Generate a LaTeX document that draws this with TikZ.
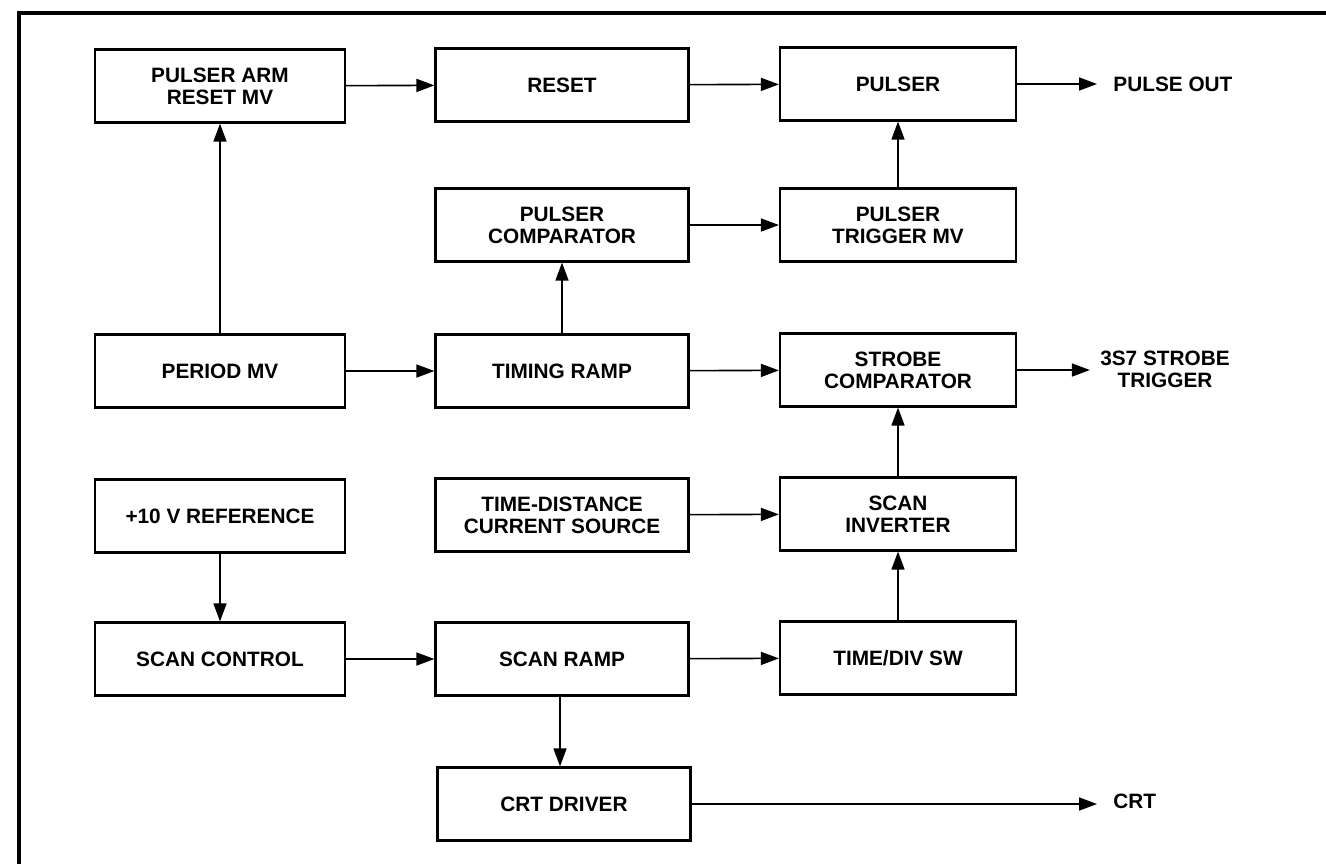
\documentclass[tikz,border=0pt]{standalone}
\usepackage{fontspec}
\setmainfont{Liberation Sans}
\usetikzlibrary{arrows.meta}
\begin{document}
\begin{tikzpicture}[x=0.5pt,y=-0.5pt,
  txt/.style={font=\bfseries\fontsize{10.4}{11}\selectfont},
  blk/.style={txt,draw,line width=1.1pt,minimum height=36.5pt,align=center,inner sep=0pt},
  wa/.style={minimum width=125pt},
  wb/.style={minimum width=126.5pt},
  wc/.style={minimum width=118pt},
  conn/.style={line width=0.8pt,-{Triangle[length=9pt,width=6.5pt]}},
  lbl/.style={txt,inner sep=0pt,align=center}]
\useasboundingbox (0,0) rectangle (1326,864);
\draw[line width=2pt] (1326,13) -- (19,13) -- (19,864);
% column 1
\node[blk,wa] (arm)  at (220,86)  {PULSER ARM\\RESET MV};
\node[blk,wa] (per)  at (220,371) {PERIOD MV};
\node[blk,wa] (ref)  at (220,516) {+10 V REFERENCE};
\node[blk,wa] (sctl) at (220,659) {SCAN CONTROL};
% column 2
\node[blk,wb] (rst)  at (562,85)  {RESET};
\node[blk,wb] (pcmp) at (562,225) {PULSER\\COMPARATOR};
\node[blk,wb] (tram) at (562,371) {TIMING RAMP};
\node[blk,wb] (tdcs) at (562,515) {TIME-DISTANCE\\CURRENT SOURCE};
\node[blk,wb] (sram) at (562,659) {SCAN RAMP};
\node[blk,wb] (crtd) at (564,804) {CRT DRIVER};
% column 3
\node[blk,wc] (pls)  at (898,84)  {PULSER};
\node[blk,wc] (ptmv) at (898,225) {PULSER\\TRIGGER MV};
\node[blk,wc] (scmp) at (898,370) {STROBE\\COMPARATOR};
\node[blk,wc] (sinv) at (898,514) {SCAN\\INVERTER};
\node[blk,wc] (tdiv) at (898,658) {TIME/DIV SW};
% outputs
\node[lbl,anchor=west] (pout) at (1113,84) {PULSE OUT};
\node[lbl] (strig) at (1165,369) {3S7 STROBE\\TRIGGER};
\node[lbl,anchor=west] (crt) at (1113,801) {CRT};
% connectors
\draw[conn] (arm) -- (rst);
\draw[conn] (rst) -- (pls);
\draw[conn] (pls) -- ([xshift=-8pt]pout.west);
\draw[conn] (pcmp) -- (ptmv);
\draw[conn] (ptmv) -- (pls);
\draw[conn] (per) -- (arm);
\draw[conn] (per) -- (tram);
\draw[conn] (tram) -- (pcmp);
\draw[conn] (tram) -- (scmp);
\draw[conn] (scmp.east) -- ([xshift=-5pt]strig.west |- scmp.east);
\draw[conn] (tdcs) -- (sinv);
\draw[conn] (sinv) -- (scmp);
\draw[conn] (ref) -- (sctl);
\draw[conn] (sctl) -- (sram);
\draw[conn] (sram) -- (tdiv);
\draw[conn] (tdiv) -- (sinv);
\draw[conn] ([xshift=-1pt]sram.south) -- ([xshift=-1pt]sram.south |- crtd.north);
\draw[conn] (crtd.east) -- ([xshift=-8pt]crt.west |- crtd.east);
\end{tikzpicture}
\end{document}
